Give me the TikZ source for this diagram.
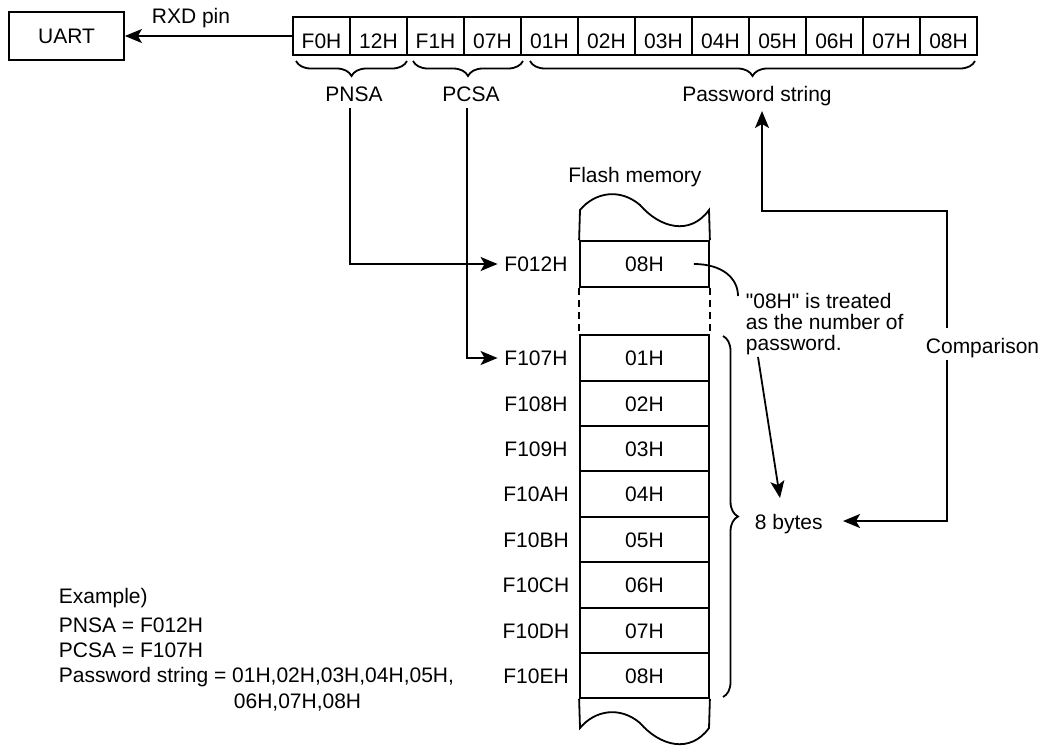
\documentclass[tikz,border=0pt]{standalone}
\usepackage{fontspec}
\setmainfont{Liberation Sans}
\newfontfamily\plainfont{Liberation Sans}
\usetikzlibrary{arrows.meta,decorations.pathreplacing}
\begin{document}
\begin{tikzpicture}[x=1pt,y=-1pt,line width=1.8pt,
  txt/.style={font=\fontsize{21}{25}\selectfont, inner sep=0pt},
  cell/.style={txt, draw, minimum width=57pt, minimum height=38pt, text height=25pt, text depth=0pt},
  mcell/.style={txt, draw, minimum width=129pt, text height=15pt, text depth=0pt},
  addr/.style={txt, inner xsep=6pt, text height=15pt, text depth=0pt},
  arr/.style={-{Stealth[length=17pt,width=14pt,inset=4pt]}},
  brc/.style={decorate, decoration={brace, amplitude=15pt}},
  dsh/.style={dash pattern=on 7pt off 5pt}
]
\useasboundingbox (0,0) rectangle (1043,745);

% UART and frame
\node[txt, draw, minimum width=115pt, minimum height=48pt, text height=15pt, text depth=0pt] (uart) at (66.5,36) {UART};
\foreach \v [count=\i] in {F0H,12H,F1H,07H,01H,02H,03H,04H,05H,06H,07H,08H}
  \node[cell] (c\i) at ({293+57*(\i-0.5)},36) {\v};
\draw[arr] (c1.west) -- (uart.east);
\node[txt, anchor=base] (rxd) at (191,23) {RXD pin};

% braces and labels
\draw[brc] (407,61) -- (296,61);
\draw[brc] (523,61) -- (413,61);
\draw[brc] (975,61) -- (530,61);
\node[txt, anchor=base] (pnsa) at (354,101) {PNSA};
\node[txt, anchor=base] (pcsa) at (471,101) {PCSA};
\node[txt, anchor=base] (pw) at (757,101) {Password string};

% flash memory
\node[txt, anchor=base] (flash) at (635,182) {Flash memory};
\node[mcell, minimum height=46pt] (m0) at (644.5,264) {08H};
\node[addr] (a0) at (536,264) {F012H};
\foreach \v/\a/\t/\b [count=\i] in {01H/F107H/335/381,02H/F108H/381/426,03H/F109H/426/471,04H/F10AH/471/517,05H/F10BH/517/562,06H/F10CH/562/608,07H/F10DH/608/653,08H/F10EH/653/698}{
  \node[mcell, minimum height={(\b-\t)*1pt}] (m\i) at (644.5,{(\t+\b)/2}) {\v};
  \node[addr] (a\i) at (536,{(\t+\b)/2}) {\a};
}
\draw (m0.north west) -- (580,210) .. controls (595,192) and (620,188) .. (640,205)
      .. controls (660,228) and (690,236) .. (709,210) -- (m0.north east);
\draw (m8.south west) -- (580,728) .. controls (595,710) and (620,706) .. (640,723)
      .. controls (660,746) and (690,754) .. (709,728) -- (m8.south east);
\draw[dsh] (m0.south west) -- (m1.north west);
\draw[dsh] (m0.south east) -- (m1.north east);

% pointers
\draw[arr, shorten <=6pt] (pnsa.south -| 350,0) |- (a0.west);
\draw[arr, shorten <=6pt] (pcsa.south -| 467,0) |- (a1.west);

% note
\node[txt, anchor=base west] (n1) at (745,308) {\plainfont "08H" is treated};
\node[txt, anchor=base west] (n2) at (745,329) {as the number of};
\node[txt, anchor=base west] (n3) at (745,350) {password.};
\draw ([xshift=-16pt]m0.east) .. controls (722,264) and (738,278) .. (738,296);

% brace 8 bytes
\draw[brc] (723,336) -- (723,697);
\node[txt, anchor=base west] (bytes) at (754,529) {8 bytes};
\coordinate (nt) at (758,357);
\coordinate (bt) at (780,498);
\draw[arr] (nt) -- (bt);

% comparison
\node[txt, anchor=base west] (cmp) at (925,353) {Comparison};
\coordinate (cu) at (947,328);
\coordinate (cd) at (947,360);
\coordinate (pwt) at (762,111);
\coordinate (byt) at (843,521);
\draw[arr] (cu) |- (762,211) -- (pwt);
\draw[arr] (cd) |- (byt);

% example
\node[txt, anchor=base west] (e1) at (58,603) {Example)};
\node[txt, anchor=base west] (e2) at (58,632) {PNSA = F012H};
\node[txt, anchor=base west] (e3) at (58,657) {PCSA = F107H};
\node[txt, anchor=base west] (e4) at (58,682) {Password string = 01H,02H,03H,04H,05H,};
\node[txt, anchor=base west] (e5) at (233,708) {06H,07H,08H};
\end{tikzpicture}
\end{document}
